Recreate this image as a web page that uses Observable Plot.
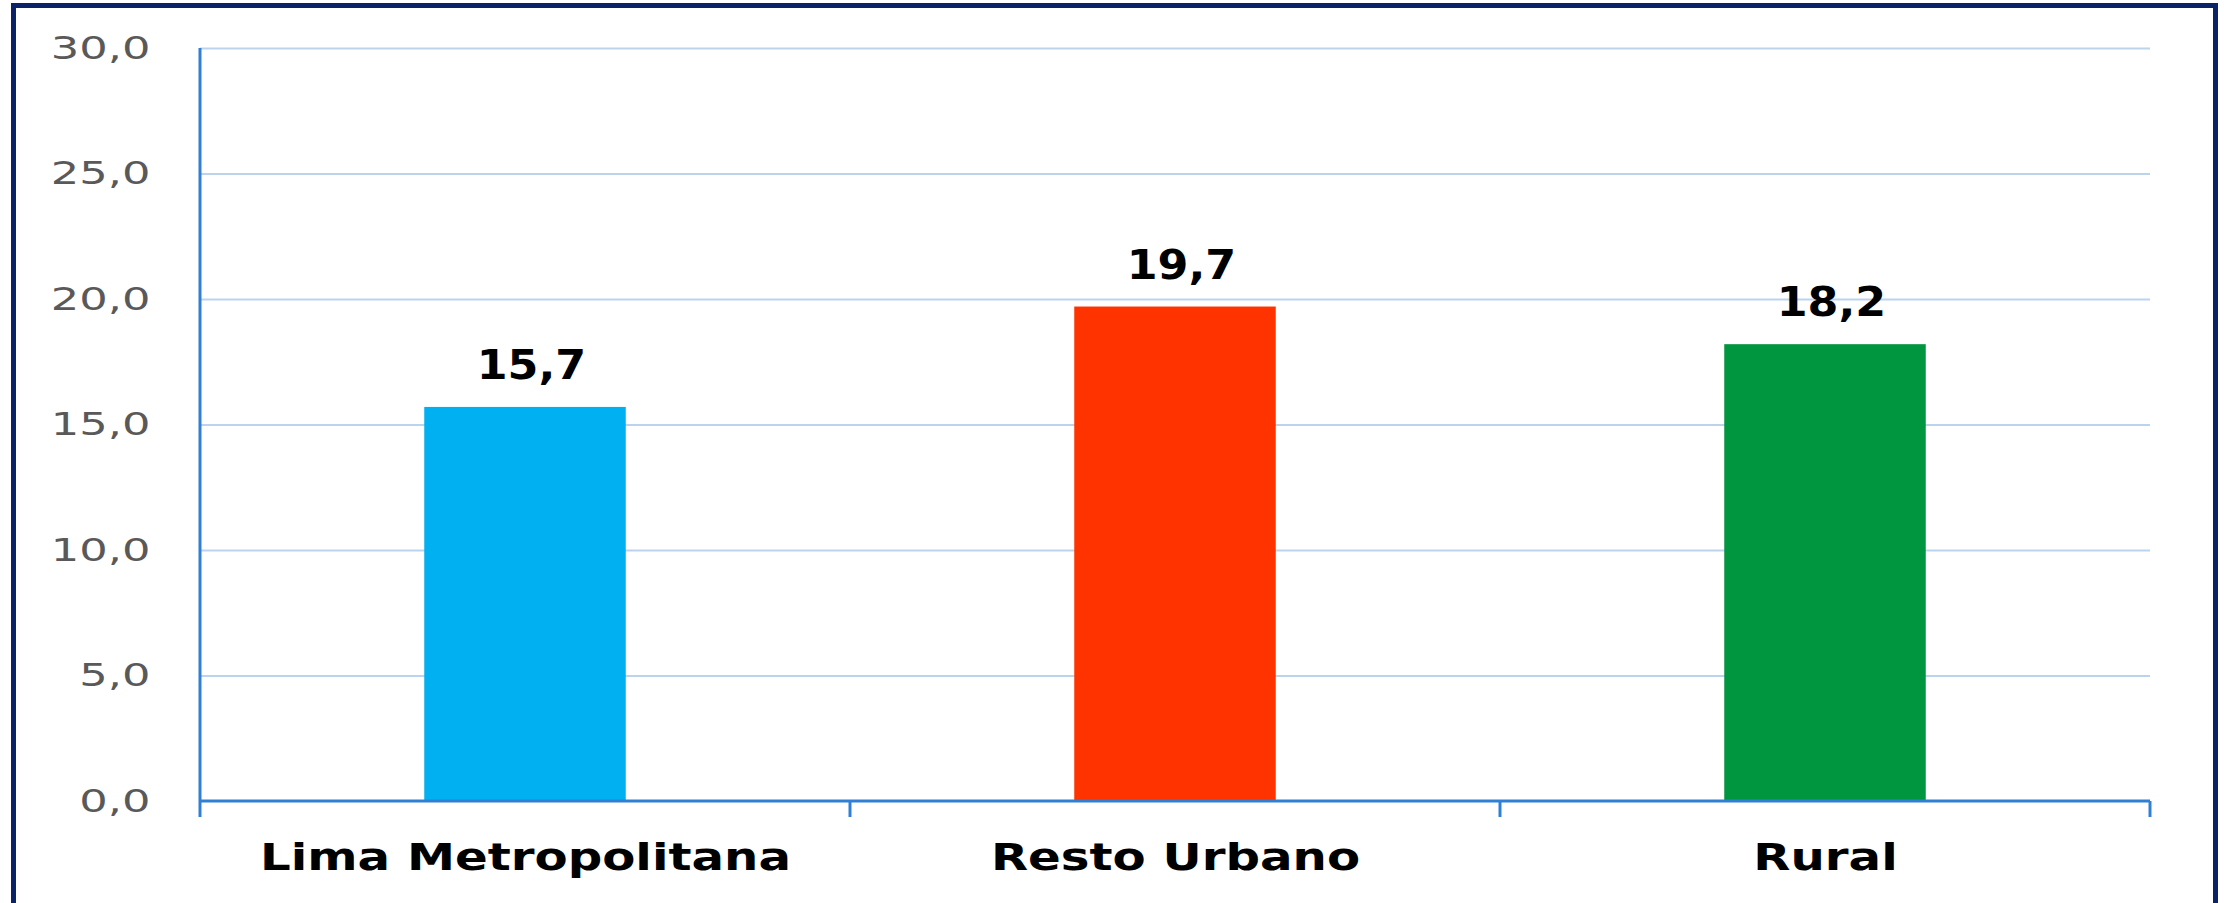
<!DOCTYPE html>
<html>
<head>
<meta charset="utf-8">
<script src="https://cdn.jsdelivr.net/npm/d3@7"></script>
<script src="https://cdn.jsdelivr.net/npm/@observablehq/plot@0.6"></script>
<style>
  html, body { margin: 0; padding: 0; background: #ffffff; }
  #wrap { position: relative; width: 2224px; height: 903px; overflow: hidden; background: #ffffff; }
  #wrap svg { position: absolute; left: 0; top: 0; }
  #frame { position: absolute; left: 11px; top: 3px; width: 2207px; height: 1000px;
           box-sizing: border-box; border: 5px solid #0a2366; pointer-events: none; }
</style>
</head>
<body>
<div id="wrap"><div id="frame"></div></div>
<script>
// ---- data ----
const categories = ["Lima Metropolitana", "Resto Urbano", "Rural"];
const values = [15.7, 19.7, 18.2];
const barColors = ["#00b0f0", "#ff3300", "#00953f"];
const yTicks = [0, 5, 10, 15, 20, 25, 30];

const data = categories.map((c, i) => ({region: c, value: values[i]}));
const fmt = v => v.toFixed(1).replace(".", ",");

const axisBlue = "#2f80d4";
const gridBlue = "#bcd3ee";

// axis lines + between-category tick marks, positioned through the scales
const axisMark = (index, scales, vals, dims) => {
  const x = scales.x, y = scales.y;
  const bw = typeof x.bandwidth === "function" ? x.bandwidth() : 0;
  const centers = categories.map(c => x(c) + bw / 2);
  const step = typeof x.step === "function" ? x.step() : (centers[1] - centers[0]);
  const bounds = [centers[0] - step / 2, ...centers.map(c => c + step / 2)];
  const y0 = y(0), yTop = y(d3.max(yTicks));
  const g = d3.create("svg:g").attr("stroke", axisBlue).attr("stroke-width", 3);
  g.append("line").attr("x1", bounds[0]).attr("x2", bounds[bounds.length - 1])
    .attr("y1", y0).attr("y2", y0);
  g.append("line").attr("x1", bounds[0]).attr("x2", bounds[0])
    .attr("y1", yTop).attr("y2", y0);
  g.selectAll("line.tick").data(bounds).join("line").attr("class", "tick")
    .attr("x1", d => d).attr("x2", d => d).attr("y1", y0).attr("y2", y0 + 16);
  return g.node();
};

const chart = Plot.plot({
  width: 2224,
  height: 903,
  marginLeft: 200,
  marginRight: 74,
  marginTop: 48,
  marginBottom: 102,
  style: {background: "transparent", overflow: "visible"},
  x: {domain: categories, paddingInner: 0.69, paddingOuter: 0.345, round: false, axis: null},
  y: {domain: [0, 30], axis: null},
  color: {domain: categories, range: barColors},
  marks: [
    Plot.ruleY(yTicks.filter(d => d > 0), {y: d => d, stroke: gridBlue, strokeWidth: 2}),
    Plot.barY(data, {x: "region", y: "value", fill: "region"}),
    axisMark,
    Plot.text(yTicks, {
      y: d => d, text: d => fmt(d), frameAnchor: "left", textAnchor: "end", dx: -50,
      lineAnchor: "middle", fill: "#595959", fontSize: 32, fontFamily: "DejaVu Sans"
    }),
    Plot.text(data, {
      x: "region", y: "value", text: d => fmt(d.value), dy: -41, dx: 6, lineAnchor: "middle",
      fill: "#000000", fontSize: 40, fontWeight: "bold", fontFamily: "DejaVu Sans"
    }),
    Plot.text(categories, {
      x: d => d, text: d => d, frameAnchor: "bottom", dy: 56, lineAnchor: "middle",
      fill: "#000000", fontSize: 38, fontWeight: "bold", fontFamily: "DejaVu Sans"
    })
  ]
});
// widen the glyphs horizontally like the reference's lettering
const sel = d3.select(chart);
const stretch = (selector, sx) =>
  sel.selectAll(selector).attr("transform", function() {
    return (this.getAttribute("transform") || "") + ` scale(${sx},1)`;
  });
stretch('g[font-size="32"] text', 1.4);
stretch('g[font-size="40"] text', 1.11);
stretch('g[font-size="38"] text', 1.27);
document.getElementById("wrap").insertBefore(chart, document.getElementById("frame"));
</script>
</body>
</html>
